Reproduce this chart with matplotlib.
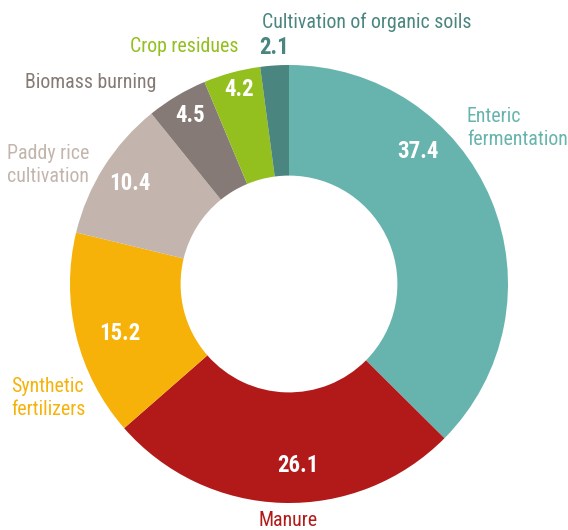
import matplotlib
matplotlib.use("Agg")
import matplotlib.pyplot as plt
from matplotlib import font_manager

categories = ["Enteric\nfermentation", "Manure", "Synthetic\nfertilizers",
              "Paddy rice\ncultivation", "Biomass burning", "Crop residues",
              "Cultivation of organic soils"]
values = [37.4, 26.1, 15.2, 10.4, 4.5, 4.2, 2.1]
value_labels = ["37.4", "26.1", "15.2", "10.4", "4.5", "4.2", "2.1"]
colors = ["#66b4ad", "#b21a1a", "#f6b208", "#c3b5ad", "#857a75", "#93bf1f", "#4a857f"]

avail = {f.name for f in font_manager.fontManager.ttflist}
fam = [f for f in ["Roboto Condensed", "Liberation Sans Narrow", "Roboto"] if f in avail]
plt.rcParams['font.family'] = fam + ["DejaVu Sans"]

W, H = 568, 530
fig = plt.figure(figsize=(W / 100, H / 100), dpi=100)
ax = fig.add_axes([0, 0, 1, 1])

def Y(y):
    return H - y

cx, cy, R = 289, 284, 219
ax.pie(values, colors=colors, startangle=90, counterclock=False,
       center=(cx, Y(cy)), radius=R,
       wedgeprops=dict(width=R * 0.505, linewidth=0))
ax.set_xlim(0, W)
ax.set_ylim(0, H)
ax.set_aspect('equal')
ax.axis('off')

# value labels (pixel positions)
vpos = [(418, 152), (298, 465), (120, 333), (130, 183), (190, 115), (239, 90), (274, 48)]
for i, (lab, (x, y)) in enumerate(zip(value_labels, vpos)):
    col = "white" if i < 6 else colors[6]
    ax.text(x, Y(y), lab, ha='center', va='center', color=col,
            fontsize=16.5, fontweight='bold')

# category labels
cpos = [(467, 128, 'left'), (288, 520, 'center'), (11, 398, 'left'),
        (7, 165, 'left'), (25, 82, 'left'), (130, 46, 'left'), (262, 22, 'left')]
for i, (lab, (x, y, ha)) in enumerate(zip(categories, cpos)):
    ax.text(x, Y(y), lab, ha=ha, va='center', color=colors[i], fontsize=14.3,
            linespacing=1.3)

fig.savefig("out.png", dpi=100)
